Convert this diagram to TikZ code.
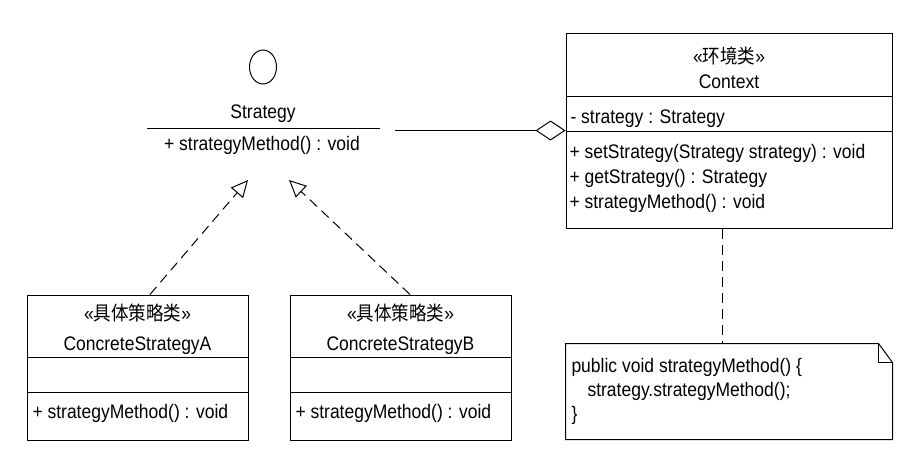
\documentclass[tikz,border=0pt]{standalone}
\usepackage{fontspec}
\usepackage{graphicx}
\setmainfont{Liberation Sans}
\newfontfamily\cjk{Noto Sans CJK SC}
\newcommand\vstr[1]{\scalebox{1}[1.12]{#1}}
\usetikzlibrary{arrows.meta,calc,shapes.geometric}
\begin{document}
\begin{tikzpicture}[x=1pt,y=-1pt,line width=1pt,
  txt/.style={inner sep=0pt,font=\fontsize{17.5}{20}\selectfont},
  umlbox/.style={draw,inner sep=0pt},
  dsh/.style={dash pattern=on 10pt off 6pt},
  realize/.style={dsh,-{Triangle[open,length=17pt,width=16pt,line width=1pt]}},
  aggr/.style={-{Diamond[open,length=30pt,width=20pt,line width=1pt]}}]
\fill[white] (0,0) rectangle (919,474);
\useasboundingbox (0,0) rectangle (919,474);

% Strategy interface
\node[draw,ellipse,minimum width=27pt,minimum height=34pt,inner sep=0pt] (ic) at (263,67) {};
\node[txt,anchor=base] (sname) at (263,118) {\vstr{Strategy}};
\coordinate (sbarL) at (147,128);
\coordinate (sbarR) at (380,128);
\draw (sbarL) -- (sbarR);
\node[txt,anchor=base] (smeth) at (262,150) {\vstr{+ strategyMethod() : void}};
\coordinate (tipA) at (248,180);
\coordinate (tipB) at (289,180);
\coordinate (sEnd) at (395,130.5);

% ConcreteStrategyA
\node[umlbox,minimum width=221pt,minimum height=145pt] (csA) at (137.5,367.5) {};
\draw ($(csA.north west)+(0,63)$) -- ($(csA.north east)+(0,63)$);
\draw ($(csA.north west)+(0,98)$) -- ($(csA.north east)+(0,98)$);
\node[txt,anchor=base] (csAst) at (137.5,320) {\vstr{«{\cjk 具体策略类}»}};
\node[txt,anchor=base] (csAn) at (137.5,350) {\vstr{ConcreteStrategyA}};
\node[txt,anchor=base west] (csAm) at (32,418) {\vstr{+ strategyMethod() : void}};

% ConcreteStrategyB
\node[umlbox,minimum width=221pt,minimum height=145pt] (csB) at (400.5,367.5) {};
\draw ($(csB.north west)+(0,63)$) -- ($(csB.north east)+(0,63)$);
\draw ($(csB.north west)+(0,98)$) -- ($(csB.north east)+(0,98)$);
\node[txt,anchor=base] (csBst) at (400.5,320) {\vstr{«{\cjk 具体策略类}»}};
\node[txt,anchor=base] (csBn) at (400.5,350) {\vstr{ConcreteStrategyB}};
\node[txt,anchor=base west] (csBm) at (295,418) {\vstr{+ strategyMethod() : void}};

% Context
\node[umlbox,minimum width=326pt,minimum height=195pt] (ctx) at (729,130.5) {};
\draw ($(ctx.north west)+(0,64)$) -- ($(ctx.north east)+(0,64)$);
\draw ($(ctx.north west)+(0,99)$) -- ($(ctx.north east)+(0,99)$);
\node[txt,anchor=base] (ctxst) at (729,63) {\vstr{«{\cjk 环境类}»}};
\node[txt,anchor=base] (ctxn) at (729,88) {\vstr{Context}};
\node[txt,anchor=base west] (ctxa) at (570,123) {\vstr{- strategy : Strategy}};
\node[txt,anchor=base west] (ctxm1) at (569,158) {\vstr{+ setStrategy(Strategy strategy) : void}};
\node[txt,anchor=base west] (ctxm2) at (569,183) {\vstr{+ getStrategy() : Strategy}};
\node[txt,anchor=base west] (ctxm3) at (569,208) {\vstr{+ strategyMethod() : void}};

% Note
\node[minimum width=326pt,minimum height=95pt,inner sep=0pt] (note) at (729,391.5) {};
\draw (note.north west) -- ($(note.north east)+(-14,0)$) -- ($(note.north east)+(0,19)$)
  -- (note.south east) -- (note.south west) -- cycle;
\draw ($(note.north east)+(-14,0)$) -- ($(note.north east)+(-14,19)$) -- ($(note.north east)+(0,19)$);
\node[txt,anchor=base west] (n1) at (571,372) {\vstr{public void strategyMethod() \{}};
\node[txt,anchor=base west] (n2) at (587,396) {\vstr{strategy.strategyMethod();}};
\node[txt,anchor=base west] (n3) at (571,420) {\vstr{\}}};

% Connectors
\draw[realize] ($(csA.north)+(12.5,0)$) -- (tipA);
\draw[realize] ($(csB.north)+(9.5,0)$) -- (tipB);
\draw[aggr] (sEnd) -- (ctx.west);
\draw[dsh] ($(ctx.south)+(-7,0)$) -- ($(note.north)+(-7,0)$);
\end{tikzpicture}
\end{document}
